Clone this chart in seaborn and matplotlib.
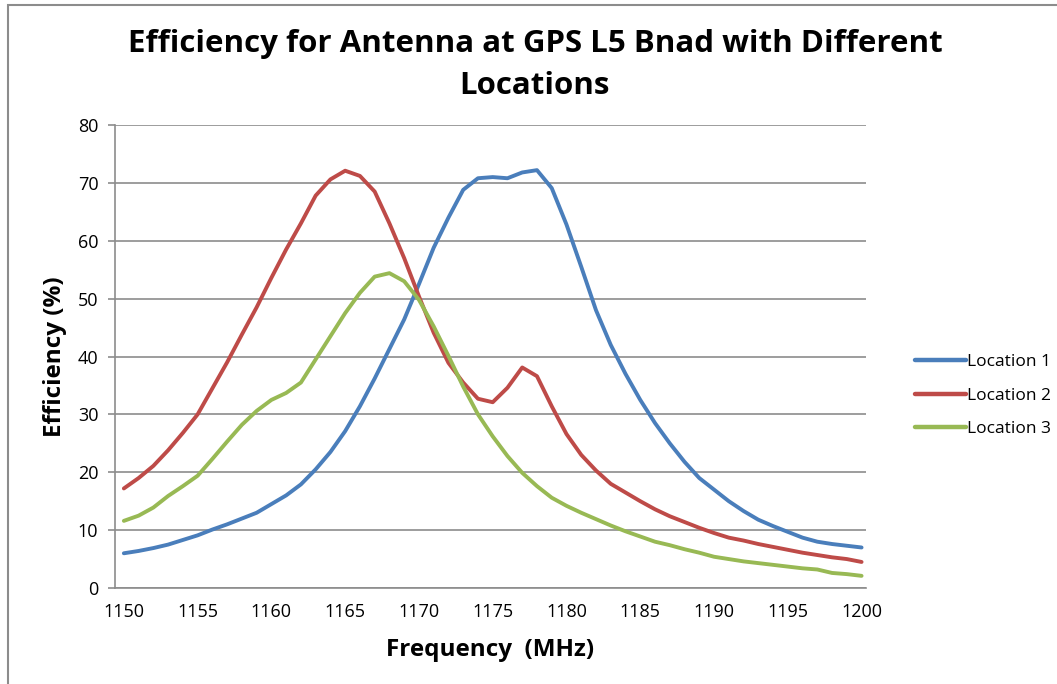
import numpy as np
import pandas as pd
import seaborn as sns
import matplotlib.pyplot as plt
from matplotlib.patches import Rectangle

freq = list(range(1150, 1201))

location_1 = [6.0, 6.4, 6.9, 7.5, 8.3, 9.1, 10.1, 11.0, 12.0, 13.0,
              14.5, 16.0, 17.9, 20.5, 23.5, 27.1, 31.4, 36.2, 41.3, 46.4,
              52.5, 58.8, 64.0, 68.8, 70.8, 71.0, 70.8, 71.8, 72.2, 69.1,
              62.8, 55.5, 48.0, 42.0, 37.0, 32.5, 28.5, 25.0, 21.8, 19.0,
              17.0, 15.0, 13.3, 11.8, 10.7, 9.7, 8.7, 8.0, 7.6, 7.3, 7.0]

location_2 = [17.2, 19.0, 21.1, 23.8, 26.8, 30.0, 34.5, 39.0, 43.8, 48.5,
              53.6, 58.5, 63.0, 67.8, 70.6, 72.1, 71.2, 68.5, 63.0, 57.0,
              50.4, 44.1, 38.9, 35.5, 32.7, 32.1, 34.6, 38.1, 36.6, 31.4,
              26.6, 23.0, 20.3, 18.0, 16.5, 15.0, 13.6, 12.4, 11.4, 10.4,
              9.5, 8.7, 8.2, 7.6, 7.1, 6.6, 6.1, 5.7, 5.3, 5.0, 4.5]

location_3 = [11.6, 12.5, 13.9, 15.9, 17.6, 19.4, 22.3, 25.3, 28.2, 30.6,
              32.5, 33.7, 35.5, 39.5, 43.5, 47.5, 51.0, 53.8, 54.4, 53.0,
              49.8, 45.2, 40.1, 34.8, 30.0, 26.2, 22.8, 19.9, 17.6, 15.6,
              14.2, 13.0, 11.9, 10.8, 9.8, 8.9, 8.0, 7.4, 6.7, 6.1,
              5.4, 5.0, 4.6, 4.3, 4.0, 3.7, 3.4, 3.2, 2.6, 2.4, 2.1]

series_names = ["Location 1", "Location 2", "Location 3"]
colors = ["#4A7EBB", "#BE4B48", "#98B954"]

df = pd.DataFrame({
    "Frequency": freq * 3,
    "Efficiency": location_1 + location_2 + location_3,
    "Series": np.repeat(series_names, len(freq)),
})

sns.set_style("white")
plt.rcParams["font.family"] = ["Open Sans", "DejaVu Sans"]
plt.rcParams["text.color"] = "black"
plt.rcParams["axes.labelcolor"] = "black"
plt.rcParams["xtick.labelcolor"] = "black"
plt.rcParams["ytick.labelcolor"] = "black"

fig = plt.figure(figsize=(10.57, 6.84), dpi=100)
ax = fig.add_axes([115 / 1057, 1 - 588 / 684, (866 - 115) / 1057, (588 - 125) / 684])

sns.lineplot(data=df, x="Frequency", y="Efficiency", hue="Series",
             palette=colors, linewidth=2.8, ax=ax)

ax.set_xlim(1149.4, 1200.3)
ax.set_ylim(0, 80)
ax.set_xticks(range(1150, 1201, 5))
ax.set_yticks(range(0, 81, 10))
ax.grid(axis="y", color="#8c8c8c", linewidth=1.2)
ax.set_axisbelow(True)
for side in ["top", "right"]:
    ax.spines[side].set_visible(False)
for side in ["left", "bottom"]:
    ax.spines[side].set_color("#8c8c8c")
    ax.spines[side].set_linewidth(1.2)
ax.tick_params(axis="y", length=5, color="#8c8c8c", width=1.2, labelsize=13, pad=7, left=True)
ax.tick_params(axis="x", length=0, labelsize=13, pad=11)

ax.set_xlabel("Frequency  (MHz)", fontsize=17.5, fontweight="bold", labelpad=12)
ax.set_ylabel("Efficiency (%)", fontsize=17.5, fontweight="bold", labelpad=8)
fig.suptitle("Efficiency for Antenna at GPS L5 Bnad with Different\nLocations",
             x=535 / 1057, y=1 - 29 / 684, fontsize=22.5, fontweight="bold",
             linespacing=1.5, va="top")

ax.legend(title=None, frameon=False, fontsize=12.5, loc="center left",
          bbox_to_anchor=(1.045, 0.415), handlelength=2.9, handletextpad=0.05,
          labelspacing=1.0)
for line in ax.get_legend().get_lines():
    line.set_linewidth(3.2)

fig.patches.append(Rectangle((8 / 1057, -0.1), 1.2, 1.1 - 5 / 684,
                             transform=fig.transFigure, fill=False,
                             edgecolor="#8c8c8c", linewidth=1.5))

fig.savefig("out.png", dpi=100)
